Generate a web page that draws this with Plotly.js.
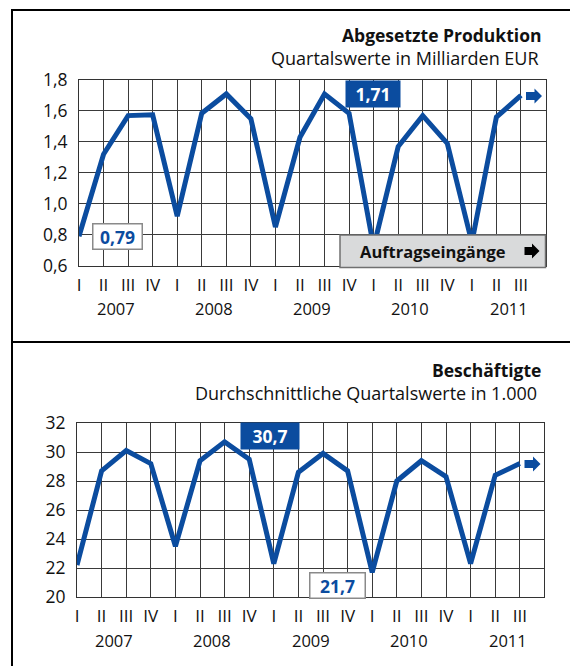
<!DOCTYPE html>
<html>
<head>
<meta charset="utf-8">
<script src="https://cdn.plot.ly/plotly-3.0.1.min.js"></script>
<style>
body { margin: 0; background: #fff; }
#chart { width: 570px; height: 666px; }
</style>
</head>
<body>
<div id="chart"></div>
<script>
// quarters 2007 I .. 2011 III
let quarters = ["I","II","III","IV","I","II","III","IV","I","II","III","IV","I","II","III","IV","I","II","III"]
let years = ["2007","2008","2009","2010","2011"]

// Abgesetzte Produktion, Mrd EUR
let produktion = [0.79, 1.32, 1.57, 1.575, 0.92, 1.585, 1.71, 1.55, 0.85, 1.43, 1.71, 1.585,
                  0.72, 1.37, 1.57, 1.39, 0.75, 1.56, 1.70]

// Beschaeftigte, 1.000
let beschaeftigte = [22.2, 28.7, 30.1, 29.2, 23.5, 29.4, 30.7, 29.5, 22.3, 28.6, 29.9, 28.7,
                     21.7, 28.0, 29.4, 28.3, 22.3, 28.4, 29.2]

let idx = quarters.map((q, i) => i)

// pixel -> paper helpers
const W = 570, H = 666
const px = x => x / W
const py = y => 1 - y / H

const blue = "#0b4c9f"
const font = "Open Sans, sans-serif"
const fmt = (v, d) => v.toFixed(d).replace(".", ",")

let topMax = Math.max(...produktion)
let botMax = Math.max(...beschaeftigte)
let botMin = Math.min(...beschaeftigte)

let traceTop = {
    x: idx, y: produktion, xaxis: "x", yaxis: "y",
    type: "scatter", mode: "lines",
    line: {color: blue, width: 5},
    hoverinfo: "none"
}
let traceBot = {
    x: idx, y: beschaeftigte, xaxis: "x2", yaxis: "y2",
    type: "scatter", mode: "lines",
    line: {color: blue, width: 5},
    hoverinfo: "none"
}

// shared axis look
function xAxis(domain, anchor) {
    return {
        domain: domain, anchor: anchor, range: [0, 19],
        tickmode: "array", tickvals: idx, ticktext: quarters,
        showgrid: true, gridcolor: "#3a3a3a", gridwidth: 1,
        showline: true, mirror: true, linecolor: "#333", linewidth: 1,
        zeroline: false, ticks: "", ticklabelstandoff: 4,
        tickfont: {family: font, size: 17, color: "#111"},
        fixedrange: true
    }
}
function yAxis(domain, anchor, range, dtick, format) {
    return {
        domain: domain, anchor: anchor, range: range, dtick: dtick, tickformat: format,
        showgrid: true, gridcolor: "#3a3a3a", gridwidth: 1,
        showline: true, mirror: true, linecolor: "#333", linewidth: 1,
        zeroline: false, ticks: "", ticklabelstandoff: 7,
        tickfont: {family: font, size: 17.5, color: "#111"},
        fixedrange: true
    }
}

// text helper, always centred on its point unless told otherwise
function label(xref, x, y, text, size, color, extra) {
    return Object.assign({
        xref: xref, yref: "paper", x: x, y: y, text: text, showarrow: false,
        xanchor: "center", yanchor: "middle",
        font: {family: font, size: size, color: color}
    }, extra || {})
}

let annotations = []

// year labels under the quarter numerals
years.forEach((y, i) => {
    annotations.push(label("x", 4 * i + 1.5, py(309), y, 16.5, "#111"))
    annotations.push(label("x2", 4 * i + 1.5, py(640), y, 16.5, "#111"))
})

// titles
annotations.push(
    label("paper", px(544), py(35), "<b>Abgesetzte Produktion</b>", 17.5, "#111", {xanchor: "right"}),
    label("paper", px(541), py(58), "Quartalswerte in Milliarden EUR", 18, "#111", {xanchor: "right"}),
    label("paper", px(543), py(370), "<b>Beschäftigte</b>", 17.5, "#111", {xanchor: "right"}),
    label("paper", px(539), py(393), "Durchschnittliche Quartalswerte in 1.000", 18, "#111", {xanchor: "right"})
)

// value labels
annotations.push(
    label("paper", px(373), py(94), "<b>" + fmt(topMax, 2) + "</b>", 17.5, "#fff",
          {width: 50, height: 22, borderpad: 2, bgcolor: blue}),
    label("paper", px(117), py(236), "<b>" + fmt(produktion[0], 2) + "</b>", 17.5, blue,
          {width: 44, height: 20, borderpad: 2, bgcolor: "#fff", bordercolor: "#8a8a8a", borderwidth: 1.5}),
    label("paper", px(270), py(436), "<b>" + fmt(botMax, 1) + "</b>", 17.5, "#fff",
          {width: 54, height: 22, borderpad: 2, bgcolor: blue}),
    label("paper", px(337), py(585), "<b>" + fmt(botMin, 1) + "</b>", 17.5, blue,
          {width: 50, height: 20, borderpad: 2, bgcolor: "#fff", bordercolor: "#8a8a8a", borderwidth: 1.5})
)

// link box text
annotations.push(
    label("paper", px(433), py(251), "<b>Auftragseingänge</b>", 16.5, "#111")
)

// block arrow pointing right, drawn as a paper path; cx/cy = its centre in pixels
function arrowPath(cx, cy, w, h, stem) {
    let x0 = cx - w / 2, x1 = cx + w / 2, xm = cx + w / 2 - h / 2
    let pts = [
        [x0, cy - stem / 2], [xm, cy - stem / 2], [xm, cy - h / 2], [x1, cy],
        [xm, cy + h / 2], [xm, cy + stem / 2], [x0, cy + stem / 2]
    ]
    return "M" + pts.map(p => px(p[0]).toFixed(5) + "," + py(p[1]).toFixed(5)).join(" L") + " Z"
}

let shapes = [
    // frame
    {type: "line", xref: "paper", yref: "paper", x0: px(11), x1: 1, y0: py(10), y1: py(10),
     line: {color: "#000", width: 2}},
    {type: "line", xref: "paper", yref: "paper", x0: px(12), x1: px(12), y0: py(9), y1: 0,
     line: {color: "#000", width: 2}},
    {type: "line", xref: "paper", yref: "paper", x0: px(12), x1: 1, y0: py(342), y1: py(342),
     line: {color: "#000", width: 2}},
    // grey box over the top chart
    {type: "rect", xref: "paper", yref: "paper", layer: "above",
     x0: px(340), x1: px(545.5), y0: py(235), y1: py(267.5),
     fillcolor: "#d9dadb", line: {color: "#707070", width: 1.5}},
    // arrows
    {type: "path", xref: "paper", yref: "paper", layer: "above", path: arrowPath(534, 96, 16, 15, 8),
     fillcolor: blue, line: {width: 0}},
    {type: "path", xref: "paper", yref: "paper", layer: "above", path: arrowPath(532.5, 464, 16, 15, 8),
     fillcolor: blue, line: {width: 0}},
    {type: "path", xref: "paper", yref: "paper", layer: "above", path: arrowPath(532, 251, 15, 15, 8),
     fillcolor: "#000", line: {width: 0}}
]

let layout = {
    width: W, height: H,
    margin: {l: 0, r: 0, t: 0, b: 0},
    paper_bgcolor: "#fff", plot_bgcolor: "#fff",
    separators: ",.",
    showlegend: false,
    xaxis: xAxis([px(79), px(545.5)], "y"),
    yaxis: yAxis([py(265.7), py(80)], "x", [0.6, 1.8], 0.2, ".1f"),
    xaxis2: xAxis([px(77), px(544.4)], "y2"),
    yaxis2: yAxis([py(597), py(423)], "x2", [20, 32], 2, "d"),
    annotations: annotations,
    shapes: shapes
}

Plotly.newPlot("chart", [traceTop, traceBot], layout, {displayModeBar: false, staticPlot: true})
</script>
</body>
</html>
